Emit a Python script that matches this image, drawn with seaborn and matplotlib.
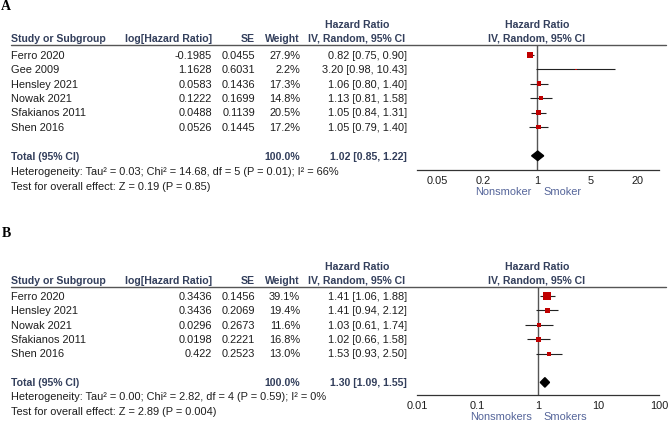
import matplotlib
matplotlib.use("Agg")
import matplotlib.pyplot as plt
import matplotlib.transforms as mtransforms
import seaborn as sns
import numpy as np

# ---------------- data ----------------
A_studies = ["Ferro 2020", "Gee 2009", "Hensley 2021", "Nowak 2021", "Sfakianos 2011", "Shen 2016"]
A_loghr = [-0.1985, 1.1628, 0.0583, 0.1222, 0.0488, 0.0526]
A_se = [0.0455, 0.6031, 0.1436, 0.1699, 0.1139, 0.1445]
A_weight = [27.9, 2.2, 17.3, 14.8, 20.5, 17.2]
A_hr = [0.82, 3.20, 1.06, 1.13, 1.05, 1.05]
A_lo = [0.75, 0.98, 0.80, 0.81, 0.84, 0.79]
A_hi = [0.90, 10.43, 1.40, 1.58, 1.31, 1.40]
A_total = [1.02, 0.85, 1.22]
A_total_weight = 100.0
A_het = "Heterogeneity: Tau² = 0.03; Chi² = 14.68, df = 5 (P = 0.01); I² = 66%"
A_test = "Test for overall effect: Z = 0.19 (P = 0.85)"
A_ticks = [0.05, 0.2, 1, 5, 20]
A_ticklabels = ["0.05", "0.2", "1", "5", "20"]
A_favours = ["Nonsmoker", "Smoker"]

B_studies = ["Ferro 2020", "Hensley 2021", "Nowak 2021", "Sfakianos 2011", "Shen 2016"]
B_loghr = [0.3436, 0.3436, 0.0296, 0.0198, 0.422]
B_se = [0.1456, 0.2069, 0.2673, 0.2221, 0.2523]
B_weight = [39.1, 19.4, 11.6, 16.8, 13.0]
B_hr = [1.41, 1.41, 1.03, 1.02, 1.53]
B_lo = [1.06, 0.94, 0.61, 0.66, 0.93]
B_hi = [1.88, 2.12, 1.74, 1.58, 2.50]
B_total = [1.30, 1.09, 1.55]
B_total_weight = 100.0
B_het = "Heterogeneity: Tau² = 0.00; Chi² = 2.82, df = 4 (P = 0.59); I² = 0%"
B_test = "Test for overall effect: Z = 2.89 (P = 0.004)"
B_ticks = [0.01, 0.1, 1, 10, 100]
B_ticklabels = ["0.01", "0.1", "1", "10", "100"]
B_favours = ["Nonsmokers", "Smokers"]

headers = ["Study or Subgroup", "log[Hazard Ratio]", "SE", "Weight"]

# ---------------- style ----------------
sns.set_style("white")
plt.rcParams["font.family"] = ["Liberation Sans", "DejaVu Sans"]
FSB = 7.6   # bold text
FS = 7.95   # regular text
HEAD = "#333f5c"
TXT = "#1e1e1e"
FAV = "#55659a"
RED = "#c00000"

W, H = 669, 423
fig = plt.figure(figsize=(W / 100, H / 100), dpi=100)
bg = fig.add_axes([0, 0, 1, 1])
bg.set_xlim(0, W)
bg.set_ylim(H, 0)
bg.axis("off")


def panel(letter, letter_y, studies, loghr, se, weight, hr, lo, hi, total, total_w, het, test,
          ticks, ticklabels, favours, top_px, bottom_px, row0_px, step, xlim):
    n = len(studies)
    y_top = (top_px - row0_px) / step
    y_bot = (bottom_px - row0_px) / step
    ax = fig.add_axes([417 / W, 1 - bottom_px / H, (659 - 417) / W, (bottom_px - top_px) / H])
    ax.set_xscale("log")
    ax.set_xlim(*xlim)
    ax.set_ylim(y_bot, y_top)
    ax.patch.set_alpha(0)
    for s in ["top", "left", "right"]:
        ax.spines[s].set_visible(False)
    ax.spines["bottom"].set_color("#333333")
    ax.spines["bottom"].set_linewidth(0.9)
    ax.set_yticks([])
    ax.set_xticks(ticks)
    ax.set_xticklabels(ticklabels)
    ax.minorticks_off()
    ax.tick_params(axis="x", direction="inout", length=6, width=0.9, color="#333333",
                   pad=1.5, labelsize=FS, labelcolor=TXT)

    rows = np.arange(n)
    total_row = n + 1
    ax.axvline(1, color="#555555", lw=1.0, zorder=1)
    ax.hlines(rows, lo, hi, color="#222222", lw=0.8, zorder=2)
    sns.scatterplot(x=hr, y=rows, s=[0.68 * w for w in weight], marker="s", color=RED,
                    edgecolor="none", linewidth=0, ax=ax, zorder=3, legend=False)
    est, l, u = total
    ax.fill([l, est, u, est], [total_row, total_row - 0.33, total_row, total_row + 0.33],
            color="black", zorder=3)

    tr = mtransforms.blended_transform_factory(bg.transData, ax.transData)
    off = 0.06
    kw = dict(transform=tr, fontsize=FS, va="center", clip_on=False)
    kwb = dict(transform=tr, fontsize=FSB, va="center", clip_on=False, fontweight="bold",
               color=HEAD)
    fig.text(0.002, 1 - letter_y / H, letter, fontsize=10, fontweight="bold",
             family="Liberation Serif", va="center", ha="left", color="black")
    hr1 = y_top - 1.45 + off
    hr2 = y_top - 0.5 + off
    bg.text(11, hr2, headers[0], ha="left", **kwb)
    bg.text(212, hr2, headers[1], ha="right", **kwb)
    bg.text(255, hr2, headers[2], ha="right", **kwb)
    bg.text(300, hr2, headers[3], ha="right", **kwb)
    bg.text(357, hr1, "Hazard Ratio", ha="center", **kwb)
    bg.text(357, hr2, "IV, Random, 95% CI", ha="center", **kwb)
    bg.text(537, hr1, "Hazard Ratio", ha="center", **kwb)
    bg.text(537, hr2, "IV, Random, 95% CI", ha="center", **kwb)
    bg.plot([11, 666], [y_top, y_top], transform=tr, color="#555555", lw=1.0, clip_on=False)
    for i in range(n):
        y = i + off
        bg.text(11, y, studies[i], ha="left", color=TXT, **kw)
        bg.text(212, y, f"{loghr[i]:g}", ha="right", color=TXT, **kw)
        bg.text(255, y, f"{se[i]:.4f}", ha="right", color=TXT, **kw)
        bg.text(300, y, f"{weight[i]:.1f}%", ha="right", color=TXT, **kw)
        bg.text(407, y, f"{hr[i]:.2f} [{lo[i]:.2f}, {hi[i]:.2f}]", ha="right", color=TXT, **kw)
    bg.text(11, total_row + off, "Total (95% CI)", ha="left", **kwb)
    bg.text(300, total_row + off, f"{total_w:.1f}%", ha="right", **kwb)
    bg.text(407, total_row + off, f"{est:.2f} [{l:.2f}, {u:.2f}]", ha="right", **kwb)
    bg.text(11, y_bot + 0.15, het, ha="left", color=TXT, **kw)
    bg.text(11, y_bot + 1.15, test, ha="left", color=TXT, **kw)
    bg.text(532, y_bot + 1.5, favours[0], ha="right", color=FAV, **kw)
    bg.text(543, y_bot + 1.5, favours[1], ha="left", color=FAV, **kw)
    return ax


panel("A", 7, A_studies, A_loghr, A_se, A_weight, A_hr, A_lo, A_hi, A_total, A_total_weight,
      A_het, A_test, A_ticks, A_ticklabels, A_favours, 45, 170, 55, 14.4, (0.0275, 38.5))
panel("B", 233, B_studies, B_loghr, B_se, B_weight, B_hr, B_lo, B_hi, B_total, B_total_weight,
      B_het, B_test, B_ticks, B_ticklabels, B_favours, 287, 395, 296, 14.4, (0.01, 100))

fig.savefig("out.png", dpi=100)
